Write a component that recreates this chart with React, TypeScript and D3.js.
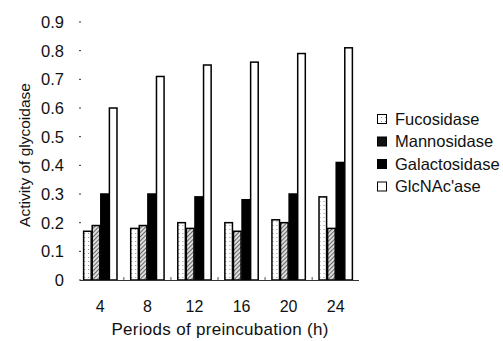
import React from "react";
import * as d3 from "d3";

const periods = ["4", "8", "12", "16", "20", "24"];
const seriesNames = ["Fucosidase", "Mannosidase", "Galactosidase", "GlcNAc'ase"];
const fucosidase = [0.17, 0.18, 0.2, 0.2, 0.21, 0.29];
const mannosidase = [0.19, 0.19, 0.18, 0.17, 0.2, 0.18];
const galactosidase = [0.3, 0.3, 0.29, 0.28, 0.3, 0.41];
const glcnacase = [0.6, 0.71, 0.75, 0.76, 0.79, 0.81];
const yTicks = [0, 0.1, 0.2, 0.3, 0.4, 0.5, 0.6, 0.7, 0.8, 0.9];

const seriesValues = [fucosidase, mannosidase, galactosidase, glcnacase];
const fills = ["url(#dots)", "url(#hatch)", "#000", "#fff"];
const legendFills = ["url(#dots)", "#111", "#000", "#fff"];

export default function App() {
  const W = 503, H = 341;
  const x0 = d3.scaleBand().domain(periods).range([77, 359]).paddingInner(0.27).paddingOuter(0.13);
  const x1 = d3.scaleBand().domain(seriesNames).range([0, x0.bandwidth()]).padding(0);
  const y = d3.scaleLinear().domain([0, 0.9]).range([280, 22]);
  const font = "'Liberation Sans', Arial, sans-serif";
  return (
    <svg width={W} height={H} style={{ position: "absolute", left: 0, top: 0 }} fontFamily={font}>
      <defs>
        <pattern id="dots" width="4" height="4" patternUnits="userSpaceOnUse">
          <rect width="4" height="4" fill="#fff" />
          <rect x="1" y="1" width="1" height="1" fill="#888" />
        </pattern>
        <pattern id="hatch" width="3" height="3" patternUnits="userSpaceOnUse" patternTransform="rotate(45)">
          <rect width="3" height="3" fill="#ddd" />
          <line x1="0" y1="0" x2="0" y2="3" stroke="#333" strokeWidth="1.4" />
        </pattern>
      </defs>
      <rect width={W} height={H} fill="#fff" />
      {/* y ticks */}
      {yTicks.map((t) => (
        <g key={t}>
          <line x1={79} x2={81} y1={y(t)} y2={y(t)} stroke="#333" strokeWidth={1} />
          <text x={64} y={y(t)} dy="0.36em" textAnchor="end" fontSize={16.5} fill="#111">
            {t === 0 ? "0" : t.toFixed(1)}
          </text>
        </g>
      ))}
      {/* bars */}
      {periods.map((p, i) => (
        <g key={p} transform={`translate(${x0(p)},0)`}>
          {seriesNames.map((s, j) => (
            <rect
              key={s}
              x={(x1(s) as number) + 0.5}
              y={y(seriesValues[j][i])}
              width={x1.bandwidth() - 1}
              height={y(0) - y(seriesValues[j][i])}
              fill={fills[j]}
              stroke="#000"
              strokeWidth={1.5}
            />
          ))}
        </g>
      ))}
      {/* baseline */}
      <line x1={80} x2={359} y1={280.5} y2={280.5} stroke="#333" strokeWidth={1} />
      {periods.slice(0, -1).map((p) => {
        const bx = (x0(p) as number) + x0.bandwidth() + (x0.step() - x0.bandwidth()) / 2;
        return <line key={p} x1={bx} x2={bx} y1={280} y2={277} stroke="#555" strokeWidth={1} />;
      })}
      {/* x tick labels */}
      {periods.map((p) => (
        <text key={p} x={(x0(p) as number) + x0.bandwidth() / 2} y={312} textAnchor="middle" fontSize={16} fill="#111">
          {p}
        </text>
      ))}
      <text x={220} y={335} textAnchor="middle" fontSize={17} letterSpacing={0.3} fill="#111">
        Periods of preincubation (h)
      </text>
      <text transform="translate(30,155) rotate(-90)" textAnchor="middle" fontSize={15.5} fill="#111">
        Activity of glycoidase
      </text>
      {/* legend */}
      {seriesNames.map((s, j) => {
        const ly = 119 + j * 22.5;
        return (
          <g key={s}>
            <rect x={377.5} y={ly - 4.5} width={9} height={9} fill={legendFills[j]} stroke="#000" strokeWidth={1} />
            <text x={395} y={ly} dy="0.36em" fontSize={16.5} fill="#111">
              {s}
            </text>
          </g>
        );
      })}
    </svg>
  );
}
